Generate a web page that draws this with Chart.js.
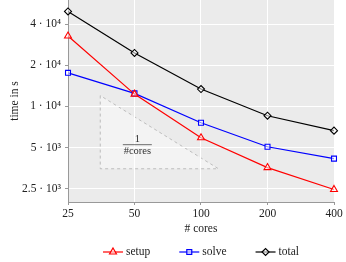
<!DOCTYPE html>
<html>
<head>
<meta charset="utf-8">
<script src="https://cdn.jsdelivr.net/npm/chart.js@4"></script>
<style>
  html, body { margin: 0; padding: 0; background: #fff; }
  #wrap { width: 346px; height: 262px; }
</style>
</head>
<body>
<div id="wrap"><canvas id="tiempoChart"></canvas></div>
<script>
const cores = [25, 50, 100, 200, 400];
const setupTime = [32700, 12300, 5900, 3570, 2470];
const solveTime = [17600, 12450, 7600, 5070, 4150];
const totalTime = [49500, 24600, 13400, 8550, 6650];
const yTicks = [2500, 5000, 10000, 20000, 40000];
const yTickLabels = ['2.5 · 10³', '5 · 10³', '1 · 10⁴', '2 · 10⁴', '4 · 10⁴'];
// slope triangle corners (1/#cores)
const slopeX = [35, 120];
const slopeY = [12000, 3500];

const fuente = 'Liberation Serif';
const sinPadding = () => ({ left: 0, top: 0, right: 0, bottom: 0 });

const fondoPlugin = {
    id: 'fondo',
    beforeDraw(chart) {
        const { ctx, chartArea: a, scales } = chart;
        ctx.save();
        ctx.fillStyle = '#ebebeb';
        ctx.fillRect(a.left, a.top, a.right - a.left, a.bottom - a.top);
        const x0 = scales.x.getPixelForValue(slopeX[0]);
        const x1 = scales.x.getPixelForValue(slopeX[1]);
        const y0 = scales.y.getPixelForValue(slopeY[0]);
        const y1 = scales.y.getPixelForValue(slopeY[1]);
        ctx.beginPath();
        ctx.moveTo(x0, y0);
        ctx.lineTo(x0, y1);
        ctx.lineTo(x1, y1);
        ctx.closePath();
        ctx.fillStyle = '#f3f3f3';
        ctx.fill();
        ctx.setLineDash([3, 3]);
        ctx.strokeStyle = '#b0b0b0';
        ctx.lineWidth = 0.8;
        ctx.stroke();
        ctx.restore();
    },
    afterDatasetsDraw(chart) {
        const { ctx, scales } = chart;
        const cx = scales.x.getPixelForValue(51.5);
        const cy = scales.y.getPixelForValue(5250);
        ctx.save();
        ctx.fillStyle = '#333';
        ctx.font = '10.5px "' + fuente + '"';
        ctx.textAlign = 'center';
        ctx.textBaseline = 'middle';
        ctx.fillText('1', cx, cy - 5);
        ctx.fillText('#cores', cx, cy + 6.5);
        ctx.strokeStyle = '#333';
        ctx.lineWidth = 0.7;
        ctx.beginPath();
        ctx.moveTo(cx - 14.5, cy);
        ctx.lineTo(cx + 14.5, cy);
        ctx.stroke();
        ctx.restore();
    }
};

const leyendaPlugin = {
    id: 'leyenda',
    afterDraw(chart) {
        const { ctx, chartArea: a } = chart;
        ctx.save();
        ctx.font = '11.5px "' + fuente + '"';
        const gap = 29, lineLen = 20, txtGap = 3;
        const items = chart.data.datasets.map(ds => ({ ds, w: lineLen + txtGap + ctx.measureText(ds.label).width }));
        const total = items.reduce((s, it) => s + it.w, 0) + gap * (items.length - 1);
        let x = (a.left + a.right) / 2 - total / 2;
        const y = 252;
        items.forEach(({ ds, w }) => {
            ctx.strokeStyle = ds.borderColor;
            ctx.lineWidth = 1.2;
            ctx.beginPath();
            ctx.moveTo(x, y);
            ctx.lineTo(x + lineLen, y);
            ctx.stroke();
            ctx.fillStyle = ds.pointBackgroundColor;
            Chart.helpers.drawPoint(ctx, {
                pointStyle: ds.pointStyle, radius: ds.pointRadius, borderWidth: 1.1
            }, x + lineLen / 2, y);
            ctx.fillStyle = '#222';
            ctx.textAlign = 'left';
            ctx.textBaseline = 'middle';
            ctx.fillText(ds.label, x + lineLen + txtGap, y);
            x += w + gap;
        });
        ctx.restore();
    }
};

function serie(label, data, color, estilo, radio) {
    return {
        label, data,
        borderColor: color,
        backgroundColor: color,
        pointBackgroundColor: 'rgba(255,255,255,0.55)',
        pointBorderColor: color,
        pointStyle: estilo,
        pointRadius: radio,
        pointBorderWidth: 1.1,
        borderWidth: 1.2,
        tension: 0,
        clip: false
    };
}

const ctx = document.getElementById('tiempoChart').getContext('2d');
const tiempoChart = new Chart(ctx, {
    type: 'line',
    data: {
        labels: cores,
        datasets: [
            serie('setup', setupTime.map((v, i) => ({ x: cores[i], y: v })), '#ff0000', 'triangle', 4),
            serie('solve', solveTime.map((v, i) => ({ x: cores[i], y: v })), '#0000ff', 'rect', 3.5),
            serie('total', totalTime.map((v, i) => ({ x: cores[i], y: v })), '#000000', 'rectRot', 3.5)
        ]
    },
    options: {
        responsive: true,
        maintainAspectRatio: false,
        animation: false,
        layout: { autoPadding: false, padding: { top: 0, right: 12, bottom: 22, left: 0 } },
        plugins: {
            legend: { display: false },
            tooltip: { enabled: false }
        },
        scales: {
            x: {
                type: 'logarithmic',
                min: 25,
                max: 400,
                afterBuildTicks(scale) { scale.ticks = cores.map(v => ({ value: v })); },
                afterFit(scale) {
                    scale.height = 38;
                    scale.getPadding = sinPadding;
                },
                ticks: {
                    color: '#222',
                    font: { family: fuente, size: 11.5 },
                    padding: 2,
                    maxRotation: 0,
                    callback: v => String(v)
                },
                grid: { color: '#ffffff', lineWidth: 1, tickColor: '#999', tickLength: 3 },
                border: { display: true, color: '#999', width: 1 },
                title: {
                    display: true, text: '# cores', color: '#222',
                    font: { family: fuente, size: 11.5 }, padding: { top: 2, bottom: 4 }
                }
            },
            y: {
                type: 'logarithmic',
                min: 2000,
                max: 60000,
                afterBuildTicks(scale) { scale.ticks = yTicks.map(v => ({ value: v })); },
                afterFit(scale) {
                    scale.width = 68;
                    scale.getPadding = sinPadding;
                },
                ticks: {
                    color: '#222',
                    font: { family: fuente, size: 11.5 },
                    padding: 4,
                    callback: v => yTickLabels[yTicks.indexOf(v)]
                },
                grid: { color: '#ffffff', lineWidth: 1, tickColor: '#999', tickLength: 3 },
                border: { display: true, color: '#999', width: 1 },
                title: {
                    display: true, text: 'time in s', color: '#222',
                    font: { family: fuente, size: 11.5 }, padding: { top: 8, bottom: 2 }
                }
            }
        }
    },
    plugins: [fondoPlugin, leyendaPlugin]
});
</script>
</body>
</html>
